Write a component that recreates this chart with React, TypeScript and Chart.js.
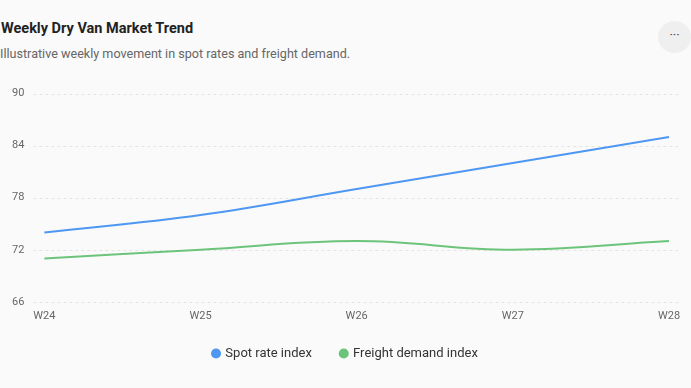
import React, { useEffect, useRef } from "react";
import { Chart, registerables } from "chart.js";

Chart.register(...registerables);

const weeks = ["W24", "W25", "W26", "W27", "W28"];
const spotRateIndex = [74, 76, 79, 82, 85];
const freightDemandIndex = [71, 72, 73, 72, 73];
const yTicks = [66, 72, 78, 84, 90];

const FONT = "Roboto, 'Segoe UI', sans-serif";

// Dashed horizontal guides that run a little past the plotted area on both sides.
const guideLines = {
  id: "guideLines",
  beforeDatasetsDraw(chart: any) {
    const { ctx, chartArea, scales } = chart;
    ctx.save();
    ctx.strokeStyle = "#e4e4e4";
    ctx.lineWidth = 1;
    ctx.setLineDash([3, 3]);
    for (const v of yTicks) {
      const y = Math.round(scales.y.getPixelForValue(v)) + 0.5;
      ctx.beginPath();
      ctx.moveTo(chartArea.left - 11, y);
      ctx.lineTo(chartArea.right + 11, y);
      ctx.stroke();
    }
    ctx.restore();
  },
};

// Center the legend across the whole canvas and tuck it a bit closer to the axis.
const legendPlacement = {
  id: "legendPlacement",
  afterLayout(chart: any) {
    const lg = chart.legend;
    if (!lg) return;
    lg.left = 0;
    lg.right = chart.width;
    lg.width = chart.width;
    lg.top -= 5;
    lg.bottom -= 5;
  },
};

export default function App() {
  const canvasRef = useRef<HTMLCanvasElement | null>(null);

  useEffect(() => {
    document.body.style.margin = "0";
    document.body.style.background = "#fafafa";
    const ctx = canvasRef.current;
    if (!ctx) return;
    const chart = new Chart(ctx, {
      type: "line",
      data: {
        labels: weeks,
        datasets: [
          {
            label: "Spot rate index",
            data: spotRateIndex,
            borderColor: "#4e97f2",
            backgroundColor: "#4e97f2",
            borderWidth: 2,
            pointRadius: 0,
            tension: 0.4,
          },
          {
            label: "Freight demand index",
            data: freightDemandIndex,
            borderColor: "#6cc47b",
            backgroundColor: "#6cc47b",
            borderWidth: 2,
            pointRadius: 0,
            tension: 0.4,
          },
        ],
      },
      options: {
        responsive: false,
        animation: false,
        layout: { padding: { left: 0, right: 22, top: 0, bottom: 0 } },
        plugins: {
          legend: {
            position: "bottom",
            labels: {
              usePointStyle: true,
              pointStyle: "circle",
              boxWidth: 5.7,
              boxHeight: 5.7,
              padding: 29,
              color: "#333",
              font: { family: FONT, size: 13 },
            },
          },
          tooltip: { enabled: false },
        },
        scales: {
          x: {
            grid: { display: false },
            border: { display: false },
            ticks: { color: "#666", font: { family: FONT, size: 11 }, padding: 0 },
          },
          y: {
            min: 66,
            max: 90,
            afterBuildTicks: (axis: any) => {
              axis.ticks = yTicks.map((v) => ({ value: v }));
            },
            grid: { display: false },
            border: { display: false },
            ticks: { color: "#666", font: { family: FONT, size: 11 }, padding: 12 },
          },
        },
      },
      plugins: [guideLines, legendPlacement],
    });
    return () => chart.destroy();
  }, []);

  return (
    <div
      style={{
        position: "relative",
        width: 691,
        height: 388,
        background: "#fafafa",
        fontFamily: FONT,
        overflow: "hidden",
      }}
    >
      <div
        style={{
          position: "absolute",
          left: 1,
          top: 20,
          fontSize: 14.5,
          fontWeight: 700,
          color: "#222",
        }}
      >
        Weekly Dry Van Market Trend
      </div>
      <div
        style={{
          position: "absolute",
          left: 0,
          top: 46,
          fontSize: 12.6,
          color: "#666",
        }}
      >
        Illustrative weekly movement in spot rates and freight demand.
      </div>
      <div
        style={{
          position: "absolute",
          left: 658,
          top: 21,
          width: 33,
          height: 32,
          borderRadius: "50%",
          background: "#efefef",
          color: "#444",
          fontSize: 13,
          lineHeight: "28px",
          textAlign: "center",
        }}
      >
        ···
      </div>
      <canvas
        ref={canvasRef}
        width={691}
        height={300}
        style={{ position: "absolute", left: 0, top: 75 }}
      />
    </div>
  );
}
